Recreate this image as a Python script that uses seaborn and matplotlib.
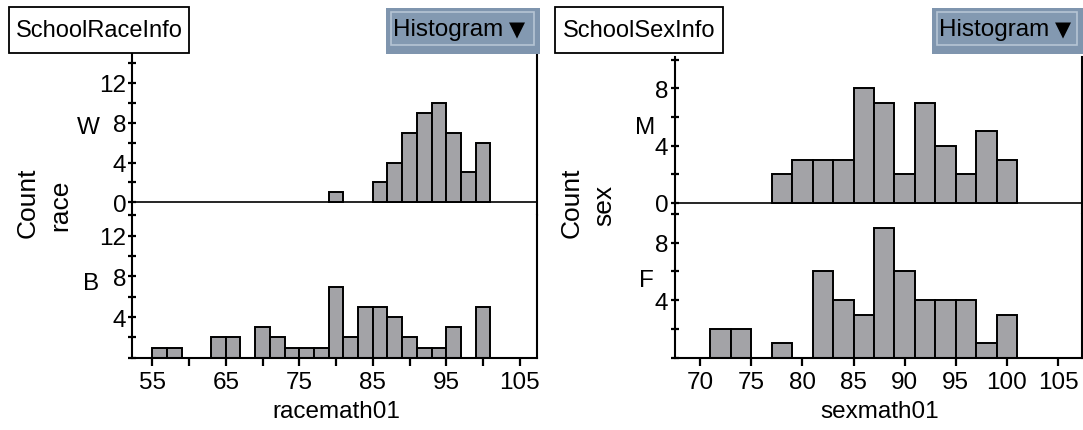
import matplotlib
matplotlib.use("Agg")
import matplotlib.pyplot as plt
import seaborn as sns
from matplotlib.patches import Rectangle

# bin left edges (width 2) and counts, only the non-empty bins
race_w_bins = [79, 85, 87, 89, 91, 93, 95, 97, 99]
race_w_counts = [1, 2, 4, 7, 9, 10, 7, 3, 6]
race_b_bins = [55, 57, 63, 65, 69, 71, 73, 75, 77, 79, 81, 83, 85, 87, 89, 91, 93, 95, 99]
race_b_counts = [1, 1, 2, 2, 3, 2, 1, 1, 1, 7, 2, 5, 5, 4, 2, 1, 1, 3, 5]

sex_m_bins = [77, 79, 81, 83, 85, 87, 89, 91, 93, 95, 97, 99]
sex_m_counts = [2, 3, 3, 3, 8, 7, 2, 7, 4, 2, 5, 3]
sex_f_bins = [71, 73, 77, 81, 83, 85, 87, 89, 91, 93, 95, 97, 99]
sex_f_counts = [2, 2, 1, 6, 4, 3, 9, 6, 4, 4, 4, 1, 3]

race_edges = list(range(55, 103, 2))
sex_edges = list(range(71, 103, 2))

race_xticks = [55, 65, 75, 85, 95, 105]
race_xminor = [60, 70, 80, 90, 100]
sex_xticks = [70, 75, 80, 85, 90, 95, 100, 105]

sns.set_style("white")
plt.rcParams['font.family'] = ['Liberation Sans', 'DejaVu Sans']
plt.rcParams['text.color'] = 'black'

W, H = 1083, 431
BAR = "#a3a3a7"
FS = 17.5

fig = plt.figure(figsize=(W / 100, H / 100), dpi=100)


def px_axes(left, top, right, bottom):
    return fig.add_axes([left / W, 1 - bottom / H, (right - left) / W, (bottom - top) / H])


def draw_hist(ax, bins, counts, edges):
    centers = [b + 1 for b in bins]
    sns.histplot(x=centers, weights=counts, bins=edges, ax=ax, color=BAR,
                 edgecolor="black", linewidth=1.4, alpha=1)
    for p in list(ax.patches):
        if p.get_height() == 0:
            p.remove()
    ax.set_xlabel("")
    ax.set_ylabel("")


def style_panel(ax, xlim, ylim, major, minor, top_panel, zero_label=True):
    ax.set_xlim(*xlim)
    ax.set_ylim(*ylim)
    for s in ax.spines.values():
        s.set_color("black")
        s.set_linewidth(1.5)
    ax.spines["top"].set_visible(False)
    ax.set_yticks(major)
    ax.set_yticklabels([str(v) if (v != 0 or zero_label) else "" for v in major])
    ax.set_yticks(minor, minor=True)
    ax.tick_params(axis="y", which="both", direction="inout", length=6, width=1.6,
                   labelsize=FS, pad=1.5, left=True, right=False, colors="black")
    if top_panel:
        ax.spines["bottom"].set_visible(False)
        ax.axhline(0, color="black", lw=1.2, zorder=0.5)
        ax.tick_params(axis="x", which="both", bottom=False, labelbottom=False)


def header(x0, x1, label, bx0, bx1):
    fig.patches.append(Rectangle((x0 / W, 1 - 54 / H), (x1 - x0) / W, 46 / H,
                                 transform=fig.transFigure, facecolor="white",
                                 edgecolor="black", lw=1.3))
    fig.text((x0 + x1) / 2 / W, 1 - 31 / H, label, ha="center", va="center",
             fontsize=17)
    fig.patches.append(Rectangle((bx0 / W, 1 - 54.5 / H), (bx1 - bx0) / W, 45.5 / H,
                                 transform=fig.transFigure, facecolor="#7f95ae",
                                 edgecolor="none"))
    fig.patches.append(Rectangle(((bx0 + 5) / W, 1 - 45.5 / H), (bx1 - bx0 - 11) / W, 33 / H,
                                 transform=fig.transFigure, facecolor="#8399b1",
                                 edgecolor="#b6c5d4", lw=1.2))
    fig.text((bx0 + 7) / W, 1 - 30 / H, "Histogram", ha="left", va="center",
             fontsize=17.5)
    fig.text((bx0 + 131) / W, 1 - 30 / H, "\u25bc", ha="center", va="center",
             fontsize=15, family=["DejaVu Sans"])


# ---- left: race ----
axW = px_axes(132.4, 53, 536.7, 216.3)
axB = px_axes(132.4, 216.3, 536.7, 358.7)
draw_hist(axW, race_w_bins, race_w_counts, race_edges)
draw_hist(axB, race_b_bins, race_b_counts, race_edges)
style_panel(axW, (52.3, 107.3), (-1.3, 15.1), [0, 4, 8, 12], [2, 6, 10, 14], True)
style_panel(axB, (52.3, 107.3), (0, 14), [0, 4, 8, 12], [2, 6, 10, 14], False, zero_label=False)
axB.set_xticks(race_xticks)
axB.set_xticks(race_xminor, minor=True)
axB.tick_params(axis="x", which="both", direction="out", length=5.5, width=1.6,
                labelsize=FS, pad=4, bottom=True, colors="black")

# ---- right: sex ----
axM = px_axes(674.7, 58, 1081.5, 215)
axF = px_axes(674.7, 215, 1081.5, 358.7)
draw_hist(axM, sex_m_bins, sex_m_counts, sex_edges)
draw_hist(axF, sex_f_bins, sex_f_counts, sex_edges)
style_panel(axM, (67.5, 107.3), (-0.77, 10.2), [0, 4, 8], [2, 6, 10], True)
style_panel(axF, (67.5, 107.3), (0, 10), [0, 4, 8], [2, 6, 10], False, zero_label=False)
axF.set_xticks(sex_xticks)
axF.tick_params(axis="x", which="both", direction="out", length=5.5, width=1.6,
                labelsize=FS, pad=4, bottom=True, colors="black")

# ---- labels ----
fig.text(28 / W, 1 - 203 / H, "Count", rotation=90, ha="center", va="center", fontsize=19)
fig.text(60 / W, 1 - 205 / H, "race", rotation=90, ha="center", va="center", fontsize=19)
fig.text(572 / W, 1 - 203 / H, "Count", rotation=90, ha="center", va="center", fontsize=19)
fig.text(604 / W, 1 - 205 / H, "sex", rotation=90, ha="center", va="center", fontsize=19)

fig.text(88.5 / W, 1 - 127.5 / H, "W", ha="center", va="center", fontsize=FS)
fig.text(91 / W, 1 - 284 / H, "B", ha="center", va="center", fontsize=FS)
fig.text(645 / W, 1 - 127.5 / H, "M", ha="center", va="center", fontsize=FS)
fig.text(646 / W, 1 - 281 / H, "F", ha="center", va="center", fontsize=FS)

fig.text(336 / W, 1 - 418 / H, "racemath01", ha="center", va="baseline", fontsize=FS)
fig.text(880 / W, 1 - 418 / H, "sexmath01", ha="center", va="baseline", fontsize=FS)

header(8.7, 189, "SchoolRaceInfo", 386, 540)
header(554.6, 722.8, "SchoolSexInfo", 931.7, 1083)

fig.savefig("out.png", dpi=100)
